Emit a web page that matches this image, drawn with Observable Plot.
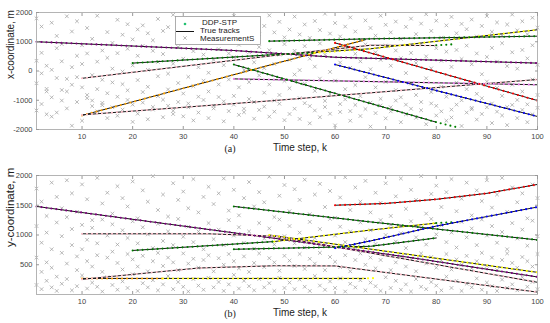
<!DOCTYPE html>
<html><head><meta charset="utf-8">
<script src="https://cdn.jsdelivr.net/npm/d3@7"></script>
<script src="https://cdn.jsdelivr.net/npm/@observablehq/plot@0.6"></script>
<style>
body{margin:0;background:#fff;}
#wrap{position:relative;width:550px;height:323px;font-family:"Liberation Sans",Arial,sans-serif;}
#wrap svg{display:block;}
#legend{position:absolute;left:175px;top:16px;}
</style></head><body><div id="wrap"></div>
<script>
// ---------- axes ----------
const kDomain = [1, 100];
const xTicks = [10, 20, 30, 40, 50, 60, 70, 80, 90, 100];
const yDomainA = [-2000, 2000];
const yTicksA = [-2000, -1000, 0, 1000, 2000];
const yDomainB = [0, 2000];
const yTicksB = [500, 1000, 1500, 2000];

// ---------- estimate colour categories ----------
const estKeys = ["purple", "pink", "orange", "yellow", "green", "blue", "red", "violet"];
const estPalette = ["#6f64e6", "#e5339a", "#e27800", "#c9b400", "#22c070", "#2450cf", "#e31c5f", "#c678d6"];

// ---------- panel (a): true tracks, waypoints [k, x-coordinate] ----------
const truthA = [
  [[1, 1000], [40, 700], [60, 470], [100, 270]],
  [[10, -250], [48, 530], [67, 880], [80, 870]],
  [[10, -1520], [48, 245], [66, 1070]],
  [[20, 270], [48, 560], [67, 760], [100, 1410]],
  [[47, 1020], [67, 1100], [100, 1190]],
  [[10, -1500], [48, -1010], [100, -290]],
  [[40, -270], [100, -470]],
  [[40, 220], [80, -1750]],
  [[60, 960], [100, -1010]],
  [[60, 220], [100, -1555]]
];
// panel (a): DDP-STP estimates [colour key, waypoints]
const estA = [
  ["purple", [[1, 1000], [40, 700], [60, 470], [100, 270]]],
  ["pink", [[10, -250], [48, 530], [67, 880], [80, 870]]],
  ["green", [[80, 880], [83, 910]]],
  ["orange", [[10, -1520], [48, 245], [66, 1070]]],
  ["green", [[20, 270], [48, 560], [56, 620]]],
  ["yellow", [[56, 620], [67, 760], [100, 1410]]],
  ["green", [[47, 1020], [67, 1100], [100, 1190]]],
  ["pink", [[10, -1500], [48, -1010], [100, -290]]],
  ["violet", [[40, -270], [100, -470]]],
  ["green", [[40, 220], [80, -1750], [84, -1920]]],
  ["red", [[60, 960], [100, -1010]]],
  ["blue", [[60, 220], [100, -1555]]]
];
// panel (a): measurements, rows [k, values...]
const clutterA = [
  [1,1800,350,-420,-1350],[2,1520,620,-80,-1130],[3,-610,-1480,180,-700],[4,1650,40,-900,-1560],[5,1200,780,-240,-1420],
  [6,920,330,-650,-1010],[7,1870,-270,-700,-1280],[8,1350,130,-470,-1870],[9,1700,520,-210,-1060],[10,880,240,-560,-1700],
  [11,1470,600,-820,-930],[12,1100,-140,-1010,-1200],[13,1890,320,-620,-1380],[14,700,-300,-1090,-1170],[15,1330,450,-760,-1610],
  [16,960,80,-390,-1240],[17,1750,610,-880,-1530],[18,1240,-20,-450,-1320],[19,1600,760,-660,-990],[20,1080,190,-1150,-1740],
  [21,1420,520,-310,-1460],[22,1560,860,-720,-1080],[23,1290,40,-540,-1650],[24,1050,690,-1230,-1320],[25,1780,310,-180,-860],
  [26,1370,580,-980,-1580],[27,1500,-90,-630,-1190],[28,1920,250,-1360,-1470],[29,1140,820,-410,-1060],[30,1660,420,-770,-1550],
  [31,960,-200,-1110,-1240],[32,1480,680,-520,-1690],[33,1230,130,-880,-1420],[34,1810,560,-330,-990],[35,1010,-60,-700,-1610],
  [36,1690,380,-1190,-1280],[37,1330,750,-460,-890],[38,1560,200,-1040,-1720],[39,1150,600,-290,-1370],[40,1880,470,-850,-1150],
  [41,1380,900,-560,-1500],[42,1620,30,-1290,-1410],[43,1090,640,-380,-960],[44,1750,300,-1060,-1630],[45,1260,820,-150,-1330],
  [46,1540,100,-740,-1220],[47,1900,710,-460,-1560],[48,1320,240,-1010,-1390],[49,1680,560,-820,-1120],[50,1150,920,-340,-1680],
  [51,1420,380,-590,-1470],[52,1860,690,-120,-1290],[53,1250,30,-930,-1640],[54,1590,850,-440,-1100],[55,1130,420,-1200,-1790],
  [56,1710,150,-680,-1350],[57,1400,940,-260,-1580],[58,1960,560,-1020,-1230],[59,1280,-30,-790,-1460],[60,1640,730,-330,-1860],
  [61,1180,290,-1130,-1400],[62,1520,820,-620,-970],[63,1830,110,-1370,-1700],[64,1350,590,-480,-1160],[65,1060,330,-860,-1540],
  [66,1730,910,-210,-1300],[67,1470,60,-1080,-1900],[68,1210,640,-560,-1440],[69,1890,380,-950,-1180],[70,1580,870,-370,-1620],
  [71,1320,180,-1240,-1380],[72,1690,700,-650,-1010],[73,1100,440,-900,-1750],[74,1510,-70,-1150,-1480],[75,1790,620,-430,-1290],
  [76,1260,270,-820,-1600],[77,1620,930,-1060,-1340],[78,1940,500,-250,-1820],[79,1370,90,-720,-1110],[80,1720,780,-1190,-1520],
  [81,1140,350,-540,-1380],[82,1560,660,-880,-1700],[83,1850,140,-1320,-1590],[84,1290,720,-400,-1150],[85,1610,410,-1000,-1880],
  [86,1430,870,-620,-1420],[87,1760,230,-1260,-1310],[88,1180,600,-780,-1660],[89,1540,-110,-930,-1470],[90,1880,480,-360,-1240],
  [91,1340,790,-1110,-1780],[92,1660,320,-580,-1390],[93,1220,950,-850,-1520],[94,1590,170,-1230,-1850],[95,1930,640,-470,-1160],
  [96,1390,80,-990,-1610],[97,1700,720,-700,-1330],[98,1260,430,-1140,-1750],[99,1820,880,-290,-1480],[100,1480,210,-820,-1260]
];

// ---------- panel (b): true tracks, waypoints [k, y-coordinate] ----------
const truthB = [
  [[1, 1480], [48, 945], [75, 620], [100, 295]],
  [[10, 1020], [35, 1020], [48, 980], [100, 205]],
  [[20, 740], [48, 890], [67, 1083], [80, 1200]],
  [[40, 1480], [67, 1220], [100, 917]],
  [[60, 1500], [70, 1530], [80, 1600], [90, 1700], [100, 1850]],
  [[60, 780], [67, 900], [80, 1150], [100, 1470]],
  [[10, 270], [66, 270]],
  [[10, 255], [33, 445], [48, 483], [60, 480], [100, 40]],
  [[40, 760], [67, 810], [80, 950]],
  [[47, 1000], [100, 372]]
];
const estB = [
  ["purple", [[1, 1480], [48, 945], [75, 620], [100, 295]]],
  ["pink", [[10, 1020], [35, 1020], [48, 980], [100, 205]]],
  ["green", [[20, 740], [48, 890]]],
  ["yellow", [[48, 890], [67, 1083], [80, 1200]]],
  ["green", [[80, 1200], [83, 1215]]],
  ["green", [[40, 1480], [67, 1220], [100, 917]]],
  ["red", [[60, 1500], [70, 1530], [80, 1600], [90, 1700], [100, 1850]]],
  ["blue", [[60, 780], [67, 900], [80, 1150], [100, 1470]]],
  ["orange", [[10, 270], [26, 270]]],
  ["yellow", [[26, 270], [66, 270], [68, 276]]],
  ["pink", [[10, 255], [33, 445], [48, 483], [60, 480], [100, 40]]],
  ["green", [[40, 760], [67, 810], [80, 950]]],
  ["yellow", [[47, 1000], [100, 372]]]
];
const clutterB = [
  [1,1780,1150,620,160],[2,1560,870,380,90],[3,1320,1040,540,230],[4,1880,760,450,120],[5,1640,1210,300,60],
  [6,1450,980,700,180],[7,1920,1300,520,260],[8,1700,1100,830,70],[9,1390,640,410,140],[10,1850,1170,760,320],
  [11,1600,920,560,100],[12,1250,1120,470,200],[13,1960,860,660,130],[14,1530,1260,380,50],[15,1710,990,620,290],
  [16,1360,1180,720,160],[17,1820,840,530,80],[18,1620,1080,420,220],[19,1480,950,680,110],[20,1900,1230,590,340],
  [21,1280,860,470,60],[22,1750,1130,650,190],[23,1560,1010,390,120],[24,1990,780,560,240],[25,1420,1190,700,70],
  [26,1680,900,480,170],[27,1310,1060,620,310],[28,1870,830,540,90],[29,1590,1270,410,210],[30,1730,970,690,130],
  [31,1450,1140,520,50],[32,1940,880,600,260],[33,1380,1060,450,150],[34,1640,760,580,80],[35,1810,1200,660,280],
  [36,1520,930,390,120],[37,1700,1090,610,210],[38,1950,830,500,60],[39,1410,1250,680,170],[40,1760,990,560,330],
  [41,1330,1130,440,100],[42,1620,870,640,230],[43,1890,1060,380,140],[44,1480,770,530,70],[45,1720,1200,690,260],
  [46,1550,940,460,120],[47,1980,1110,610,190],[48,1300,840,540,60],[49,1660,1260,400,280],[50,1840,980,650,110],
  [51,1400,1150,570,200],[52,1770,860,480,90],[53,1590,1040,680,250],[54,1930,790,430,130],[55,1350,1220,600,60],
  [56,1680,950,520,310],[57,1860,1100,700,150],[58,1470,830,410,80],[59,1740,1270,630,220],[60,1290,990,550,110],
  [61,1630,1140,460,270],[62,1970,880,660,50],[63,1420,1060,390,180],[64,1800,760,580,120],[65,1560,1210,690,240],
  [66,1910,930,500,70],[67,1380,1080,620,200],[68,1710,850,440,140],[69,1540,1250,580,60],[70,1870,1000,670,290],
  [71,1320,1170,410,110],[72,1650,890,540,230],[73,1950,1030,640,80],[74,1440,780,470,170],[75,1760,1230,600,50],
  [76,1590,960,390,260],[77,1990,1120,690,130],[78,1360,840,520,90],[79,1690,1270,630,210],[80,1830,1010,450,150],
  [81,1470,1160,570,70],[82,1720,880,680,300],[83,1940,1040,420,110],[84,1400,790,590,230],[85,1610,1220,500,60],
  [86,1880,960,650,180],[87,1330,1110,440,120],[88,1750,830,560,270],[89,1570,1260,700,80],[90,1920,990,480,200],
  [91,1460,1150,620,140],[92,1680,870,410,60],[93,1960,1050,580,250],[94,1390,760,690,110],[95,1800,1200,530,170],
  [96,1550,940,450,70],[97,1700,1090,630,290],[98,1280,820,560,130],[99,1850,1240,470,210],[100,1620,980,680,90]
];

// ---------- helpers ----------
const truthRows = (tracks) => tracks.flatMap((pts, i) => pts.map(([k, v]) => ({id: i, k, v})));
const estRows = (segs) => segs.flatMap(([key, pts], i) => pts.map(([k, v]) => ({id: i, key, k, v})));
const clutterRows = (rows) => rows.flatMap(([k, ...vs]) => vs.map((v) => ({k, v})));
const FONT = '"Liberation Sans", Arial, sans-serif';
const plain = (d) => String(d);

function panel({height, marginTop, marginBottom, yDomain, yTicks, truth, est, clutter, ylabel, ylabelSize, ylabelDy, tag}) {
  return Plot.plot({
    width: 550, height, marginTop, marginBottom, marginLeft: 36, marginRight: 13,
    style: {fontFamily: FONT, background: "#fff", color: "#333", overflow: "visible"},
    x: {domain: kDomain},
    y: {domain: yDomain},
    color: {domain: estKeys, range: estPalette},
    marks: [
      Plot.dot(clutterRows(clutter), {x: "k", y: "v", symbol: "times", r: 1.8, stroke: "#a2a2a2", strokeWidth: 0.75}),
      Plot.line(truthRows(truth), {x: "k", y: "v", z: "id", stroke: "#151515", strokeWidth: 1}),
      Plot.line(estRows(est), {x: "k", y: "v", z: "id", stroke: "key", strokeWidth: 2.1, strokeDasharray: "0 5", strokeLinecap: "round"}),
      Plot.frame({stroke: "#b4b4b4"}),
      Plot.axisX(xTicks, {anchor: "bottom", tickSize: -3, tickPadding: 7, tickFormat: plain, label: null, stroke: "#999", fill: "#444", fontSize: 7.5}),
      Plot.axisX(xTicks, {anchor: "top", tickSize: -3, tickFormat: () => "", label: null, stroke: "#999"}),
      Plot.axisY(yTicks, {anchor: "left", tickSize: -3, tickPadding: 7, tickFormat: plain, label: null, stroke: "#999", fill: "#444", fontSize: 7.5}),
      Plot.axisY(yTicks, {anchor: "right", tickSize: -3, tickFormat: () => "", label: null, stroke: "#999"}),
      Plot.text(["Time step, k"], {frameAnchor: "bottom", dy: 21, dx: 13, fontSize: 10, fill: "#222"}),
      Plot.text([tag], {frameAnchor: "bottom", dy: 22, dx: -57, fontSize: 10, fill: "#222", fontFamily: '"Liberation Serif", "Times New Roman", serif'}),
      Plot.text([ylabel], {frameAnchor: "left", rotate: -90, dx: -26, dy: ylabelDy, fontSize: ylabelSize, fill: "#222"})
    ]
  });
}

const wrap = document.getElementById("wrap");
wrap.append(panel({height: 161, marginTop: 12, marginBottom: 32, yDomain: yDomainA, yTicks: yTicksA,
  truth: truthA, est: estA, clutter: clutterA, ylabel: "x-coordinate, m", ylabelSize: 10, ylabelDy: 8, tag: "(a)"}));
wrap.append(panel({height: 162, marginTop: 14, marginBottom: 29, yDomain: yDomainB, yTicks: yTicksB,
  truth: truthB, est: estB, clutter: clutterB, ylabel: "y-coordinate, m", ylabelSize: 11.5, ylabelDy: 12, tag: "(b)"}));

// legend
const legendEntries = ["DDP-STP", "True tracks", "MeasurementS"];
const lg = d3.create("svg").attr("id", "legend").attr("width", 86).attr("height", 29)
  .style("font-family", FONT).style("font-size", "8px");
lg.append("rect").attr("x", 0.5).attr("y", 0.5).attr("width", 85).attr("height", 28).attr("fill", "#fff").attr("stroke", "#999").attr("stroke-width", 0.8);
lg.append("circle").attr("cx", 10).attr("cy", 8).attr("r", 1.3).attr("fill", estPalette[4]);
lg.append("line").attr("x1", 1).attr("x2", 19).attr("y1", 15.5).attr("y2", 15.5).attr("stroke", "#151515");
lg.append("path").attr("d", "M8.3,20.3L11.7,23.7M8.3,23.7L11.7,20.3").attr("stroke", "#a2a2a2").attr("stroke-width", 0.75);
const ly = [9, 16.7, 25.2], lx = [27, 25, 25];
legendEntries.forEach((t, i) => lg.append("text").attr("x", lx[i]).attr("y", ly[i]).attr("fill", "#222").text(t));
wrap.append(lg.node());
</script></body></html>
